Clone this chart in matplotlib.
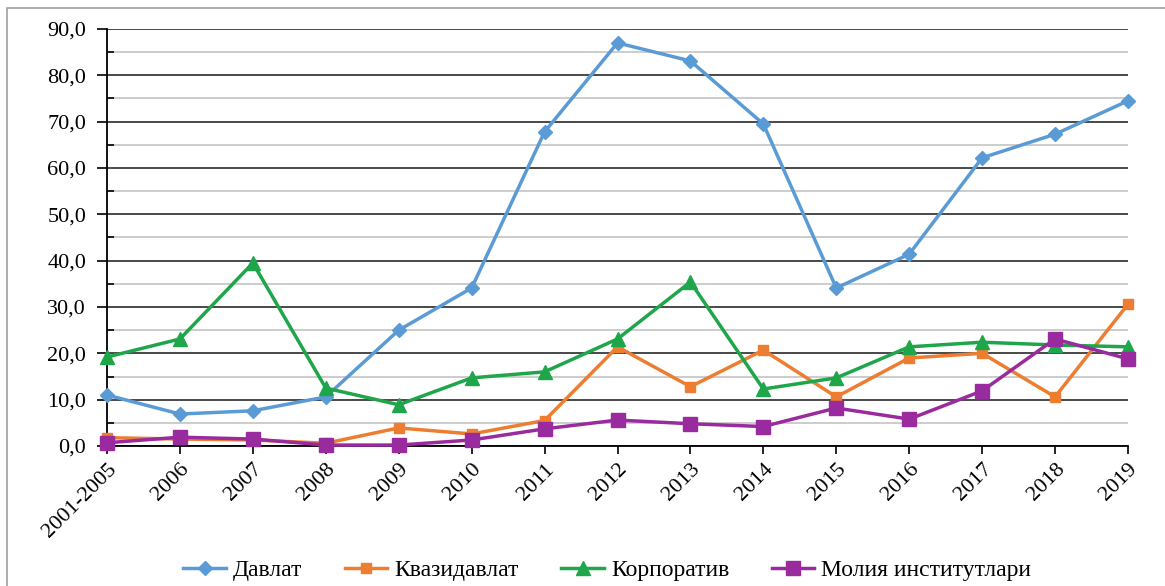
import matplotlib.pyplot as plt
from matplotlib.patches import Rectangle
from matplotlib.ticker import MultipleLocator, FuncFormatter

plt.rcParams['font.family'] = ['Liberation Serif', 'DejaVu Serif']

# categories and series
years = ["2001-2005", "2006", "2007", "2008", "2009", "2010", "2011", "2012",
         "2013", "2014", "2015", "2016", "2017", "2018", "2019"]
davlat = [11.0, 6.9, 7.6, 10.6, 25.0, 34.1, 67.8, 87.0, 83.1, 69.5, 34.1, 41.4, 62.2, 67.3, 74.5]
kvazi = [1.8, 1.5, 1.3, 0.6, 3.9, 2.6, 5.5, 21.4, 12.8, 20.7, 10.6, 19.0, 20.0, 10.6, 30.6]
korp = [19.2, 23.1, 39.5, 12.5, 8.9, 14.7, 16.0, 23.1, 35.4, 12.3, 14.7, 21.4, 22.4, 21.8, 21.4]
moliya = [0.7, 1.9, 1.5, 0.2, 0.2, 1.3, 3.7, 5.6, 4.8, 4.2, 8.2, 5.8, 11.9, 23.1, 18.8]

names = ["Давлат", "Квазидавлат", "Корпоратив", "Молия институтлари"]
colors = ["#5B9BD5", "#ED7D31", "#1FA64A", "#9A2B9E"]
markers = ["D", "s", "^", "s"]
msizes = [7, 7, 10, 10]

fig = plt.figure(figsize=(11.65, 5.86), dpi=100)
ax = fig.add_axes([107 / 1165, 1 - 446 / 586, (1128 - 107) / 1165, (446 - 29) / 586])

# outer frame of the chart area
fig.patches.append(Rectangle((7 / 1165, -0.05), 1.2, 1 - 8 / 586 + 0.05,
                             transform=fig.transFigure, fill=False,
                             edgecolor="#A0A0A0", linewidth=1.2))

x = list(range(len(years)))
for vals, name, c, m, ms in zip([davlat, kvazi, korp, moliya], names, colors, markers, msizes):
    ax.plot(x, vals, color=c, marker=m, markersize=ms, linewidth=2.5,
            label=name, clip_on=False, zorder=3)

ax.set_xlim(0, len(years) - 1)
ax.set_ylim(0, 90)
ax.yaxis.set_major_locator(MultipleLocator(10))
ax.yaxis.set_minor_locator(MultipleLocator(5))
ax.yaxis.set_major_formatter(FuncFormatter(lambda v, p: f"{v:.1f}".replace(".", ",")))
ax.grid(which="major", axis="y", color="#3A3A3A", linewidth=1.3, zorder=0)
ax.grid(which="minor", axis="y", color="#C8C8C8", linewidth=1.3, zorder=0)
ax.set_axisbelow(True)

for s in ["top", "right"]:
    ax.spines[s].set_visible(False)
ax.spines["left"].set_color("black")
ax.spines["bottom"].set_color("black")
ax.spines["left"].set_linewidth(1.3)
ax.spines["bottom"].set_linewidth(1.3)

ax.set_xticks(x)
ax.set_xticklabels(years, rotation=45, ha="right", rotation_mode="anchor")
ax.tick_params(axis="x", length=6, width=1.2, labelsize=16, pad=4)
ax.tick_params(axis="y", which="major", length=7, width=1.2, labelsize=16, pad=8)
ax.tick_params(axis="y", which="minor", direction="in", length=5, width=1.2)

ax.legend(loc="center", bbox_to_anchor=(0.5 - 0.01, (446 - 570) / (446 - 29)),
          ncol=4, frameon=False, fontsize=17, handlelength=1.8,
          columnspacing=1.8, handletextpad=0.3)

fig.savefig("out.png", dpi=100)
